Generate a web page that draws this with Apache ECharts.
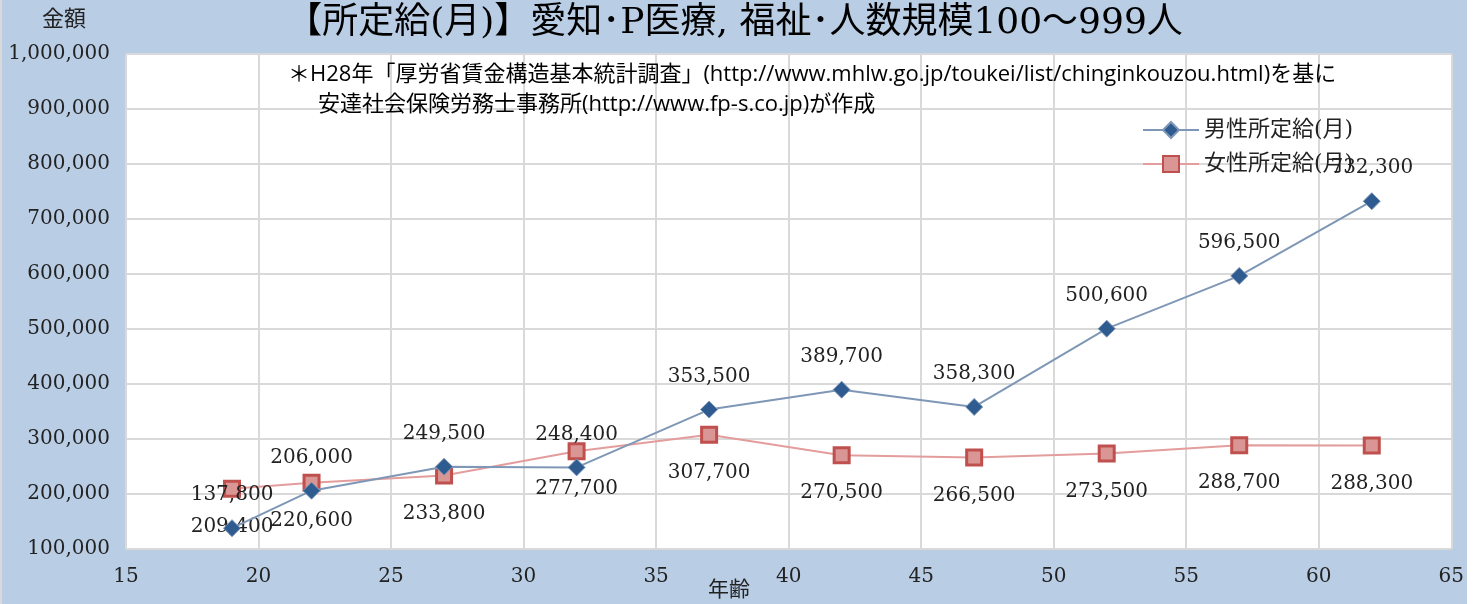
<!DOCTYPE html>
<html>
<head>
<meta charset="utf-8">
<script src="https://cdn.jsdelivr.net/npm/echarts@6/dist/echarts.min.js"></script>
<style>
html,body{margin:0;padding:0;background:#ffffff;}
#c{width:1465px;height:604px;background:#b9cde5;border-left:2px solid #d9d9d9;}
</style>
</head>
<body>
<div id="c"></div>
<script>
var ages = [19, 22, 27, 32, 37, 42, 47, 52, 57, 62];
var maleValues = [137800, 206000, 249500, 248400, 353500, 389700, 358300, 500600, 596500, 732300];
var femaleValues = [209400, 220600, 233800, 277700, 307700, 270500, 266500, 273500, 288700, 288300];
var seriesNames = ['男性所定給(月)', '女性所定給(月)'];
var titleText = '【所定給(月)】愛知･P医療, 福祉･人数規模100～999人';
var noteLine1 = '＊H28年「厚労省賃金構造基本統計調査」(http://www.mhlw.go.jp/toukei/list/chinginkouzou.html)を基に';
var noteLine2 = '安達社会保険労務士事務所(http://www.fp-s.co.jp)が作成';
var yAxisName = '金額';
var xAxisName = '年齢';

var serif = "'DejaVu Serif','Noto Sans CJK JP',serif";
var sans = "'Open Sans','Noto Sans CJK JP',sans-serif";

function pairs(xs, ys) { return xs.map(function (x, i) { return [x, ys[i]]; }); }
function fmt(v) { return v.toLocaleString('en-US'); }

var chart = echarts.init(document.getElementById('c'));
chart.setOption({
  animation: false,
  title: {
    text: titleText, left: 'center', top: 1,
    textStyle: { fontFamily: serif, fontSize: 36, fontWeight: 'normal', color: '#000' }
  },
  grid: { left: 124, right: 15, top: 54, bottom: 55 },
  legend: {
    orient: 'vertical', left: 1140, top: 119, itemGap: 12, padding: 0,
    itemWidth: 56, itemHeight: 20,
    textStyle: { fontFamily: serif, fontSize: 22, color: '#222' },
    data: seriesNames
  },
  xAxis: {
    type: 'value', min: 15, max: 65, interval: 5,
    axisLine: { show: false }, axisTick: { show: false },
    axisLabel: { fontFamily: serif, fontSize: 20, color: '#222', margin: 18 },
    splitLine: { show: true, lineStyle: { color: '#d9d9d9', width: 2 } }
  },
  yAxis: {
    type: 'value', min: 100000, max: 1000000, interval: 100000,
    axisLine: { show: false }, axisTick: { show: false },
    axisLabel: { fontFamily: serif, fontSize: 20, color: '#222', margin: 16, formatter: function (v) { return fmt(v); } },
    splitLine: { show: true, lineStyle: { color: '#d9d9d9', width: 2 } }
  },
  graphic: [
    { type: 'rect', z: -1, shape: { x: 124, y: 54, width: 1326, height: 495 }, style: { fill: '#ffffff' } },
    { type: 'text', left: 40, top: 7, style: { text: yAxisName, font: "22px 'Noto Sans CJK JP'", fill: '#222' } },
    { type: 'text', left: 706, top: 578, style: { text: xAxisName, font: "21px 'Noto Sans CJK JP'", fill: '#222' } },
    { type: 'text', left: 286, top: 64, z: 10, style: { text: noteLine1, font: "22px " + sans, fill: '#000' } },
    { type: 'text', left: 316, top: 94, z: 10, style: { text: noteLine2, font: "22px " + sans, fill: '#000' } }
  ],
  series: [
    {
      name: seriesNames[0], type: 'line', data: pairs(ages, maleValues),
      symbol: 'diamond', symbolSize: 17,
      lineStyle: { color: '#7f97b6', width: 2 },
      itemStyle: { color: '#2e5b90', borderColor: '#7f97b6', borderWidth: 1 },
      label: { show: true, position: 'top', distance: 14, fontFamily: serif, fontSize: 20, color: '#222', formatter: function (p) { return fmt(p.value[1]); } },
      z: 3
    },
    {
      name: seriesNames[1], type: 'line', data: pairs(ages, femaleValues),
      symbol: 'rect', symbolSize: 15,
      lineStyle: { color: '#e39d9c', width: 2 },
      itemStyle: { color: '#da9694', borderColor: '#c0504d', borderWidth: 3 },
      label: { show: true, position: 'bottom', distance: 19, fontFamily: serif, fontSize: 20, color: '#222', formatter: function (p) { return fmt(p.value[1]); } },
      z: 2
    }
  ]
});
</script>
</body>
</html>
